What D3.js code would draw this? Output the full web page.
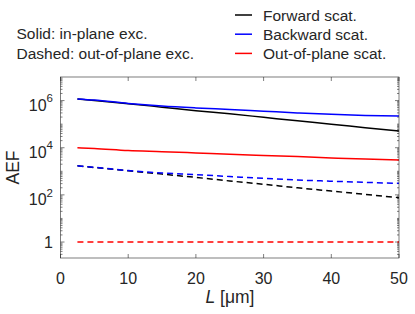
<!DOCTYPE html>
<html>
<head>
<meta charset="utf-8">
<script src="https://cdn.jsdelivr.net/npm/d3@7"></script>
<style>
  body { margin: 0; background: #fff; }
  text { font-family: "Liberation Sans", Arial, sans-serif; fill: #262626; }
</style>
</head>
<body>
<div id="chart"></div>
<script>
// L values [um]
const lengths = [2.5, 5, 10, 15, 20, 25, 30, 35, 40, 45, 50];

// in-plane excitation (solid)
const fwdInPlane  = [1.175e6, 1.0e6, 7.4e5, 5.25e5, 3.7e5, 2.75e5, 1.95e5, 1.38e5, 1.0e5, 7.1e4, 5.1e4];
const bwdInPlane  = [1.175e6, 1.05e6, 7.6e5, 5.9e5, 4.9e5, 4.2e5, 3.55e5, 3.0e5, 2.6e5, 2.35e5, 2.2e5];
const oopInPlane  = [1.0e4, 9.3e3, 7.6e3, 6.8e3, 6.0e3, 5.25e3, 4.7e3, 4.2e3, 3.7e3, 3.3e3, 3.0e3];

// out-of-plane excitation (dashed)
const fwdOutPlane = [1700, 1450, 1050, 760, 550, 390, 282, 200, 145, 105, 76];
const bwdOutPlane = [1700, 1480, 1070, 850, 725, 600, 500, 427, 380, 339, 309];
const oopOutPlane = [1, 1, 1, 1, 1, 1, 1, 1, 1, 1, 1];

const xTicks = [0, 10, 20, 30, 40, 50];
const yTickExps = [0, 2, 4, 6];

const legendNames = ["Forward scat.", "Backward scat.", "Out-of-plane scat."];
const legendColors = ["#000000", "#0000ff", "#ff0000"];

const series = [
    {vals: fwdInPlane,  color: "#000000", dash: null},
    {vals: bwdInPlane,  color: "#0000ff", dash: null},
    {vals: oopInPlane,  color: "#ff0000", dash: null},
    {vals: fwdOutPlane, color: "#000000", dash: "6,4"},
    {vals: bwdOutPlane, color: "#0000ff", dash: "6,4"},
    {vals: oopOutPlane, color: "#ff0000", dash: "6,4"}
];

const width = 415, height = 314;
const m = {left: 60.5, right: 399, top: 77, bottom: 258};

const svg = d3.select("#chart").append("svg")
    .attr("width", width)
    .attr("height", height);

const x = d3.scaleLinear().domain([0, 50]).range([m.left, m.right]);
const y = d3.scaleLog().domain([0.21, 1e7]).range([m.bottom, m.top]);

// minor + major ticks (log)
const axisCol = "#262626";
const ticks = svg.append("g").attr("stroke", axisCol).attr("stroke-width", 0.6);
for (let k = -1; k <= 6; k++) {
    for (let j = 1; j <= 9; j++) {
        const v = j * Math.pow(10, k);
        if (v < 0.21 || v > 1e7) continue;
        const major = (j === 1 && k % 2 === 0 && k >= 0);
        const len = major ? 4 : 2;
        const yy = y(v);
        ticks.append("line").attr("x1", m.left).attr("x2", m.left + len).attr("y1", yy).attr("y2", yy);
        ticks.append("line").attr("x1", m.right).attr("x2", m.right - len).attr("y1", yy).attr("y2", yy);
    }
}
xTicks.forEach(t => {
    ticks.append("line").attr("x1", x(t)).attr("x2", x(t)).attr("y1", m.bottom).attr("y2", m.bottom - 4);
    ticks.append("line").attr("x1", x(t)).attr("x2", x(t)).attr("y1", m.top).attr("y2", m.top + 4);
});

// data lines
const line = d3.line()
    .x((d, i) => x(lengths[i]))
    .y(d => y(d))
    .curve(d3.curveMonotoneX);

series.forEach(s => {
    svg.append("path")
        .datum(s.vals)
        .attr("d", line)
        .attr("fill", "none")
        .attr("stroke", s.color)
        .attr("stroke-width", 1.5)
        .attr("stroke-dasharray", s.dash);
});

// box
svg.append("rect")
    .attr("x", m.left).attr("y", m.top)
    .attr("width", m.right - m.left).attr("height", m.bottom - m.top)
    .attr("fill", "none").attr("stroke", axisCol).attr("stroke-width", 0.6);

// x tick labels
svg.append("g").selectAll("text")
    .data(xTicks)
    .enter().append("text")
    .attr("x", d => x(d))
    .attr("y", 284)
    .attr("text-anchor", "middle")
    .style("font-size", "16px")
    .text(d => d);

// y tick labels
const yl = svg.append("g");
yTickExps.forEach(e => {
    const yy = y(Math.pow(10, e));
    const t = yl.append("text")
        .attr("x", 53)
        .attr("text-anchor", "end")
        .style("font-size", "16px");
    if (e === 0) {
        t.attr("y", yy + 6).text("1");
    } else {
        t.attr("y", yy + 10);
        t.append("tspan").text("10");
        t.append("tspan").attr("dy", -8.3).style("font-size", "11.5px").text(e);
    }
});

// axis labels
const xl = svg.append("text")
    .attr("x", 230).attr("y", 303)
    .attr("text-anchor", "middle")
    .style("font-size", "17.5px");
xl.append("tspan").style("font-style", "italic").text("L");
xl.append("tspan").text(" [\u03bcm]");

svg.append("text")
    .attr("transform", `translate(19, ${(m.top + m.bottom) / 2}) rotate(-90)`)
    .attr("text-anchor", "middle")
    .style("font-size", "17.5px")
    .text("AEF");

// annotation
svg.append("text").attr("x", 16.5).attr("y", 39.3).style("font-size", "15.5px").text("Solid: in-plane exc.");
svg.append("text").attr("x", 16.5).attr("y", 58.7).style("font-size", "15.5px").text("Dashed: out-of-plane exc.");

// legend
const leg = svg.append("g");
legendNames.forEach((n, i) => {
    const yy = 15 + i * 19.2;
    leg.append("line")
        .attr("x1", 235).attr("x2", 252).attr("y1", yy).attr("y2", yy)
        .attr("stroke", legendColors[i]).attr("stroke-width", 1.5);
    leg.append("text")
        .attr("x", 263).attr("y", yy + 5.6)
        .style("font-size", "15.5px")
        .text(n);
});
</script>
</body>
</html>
